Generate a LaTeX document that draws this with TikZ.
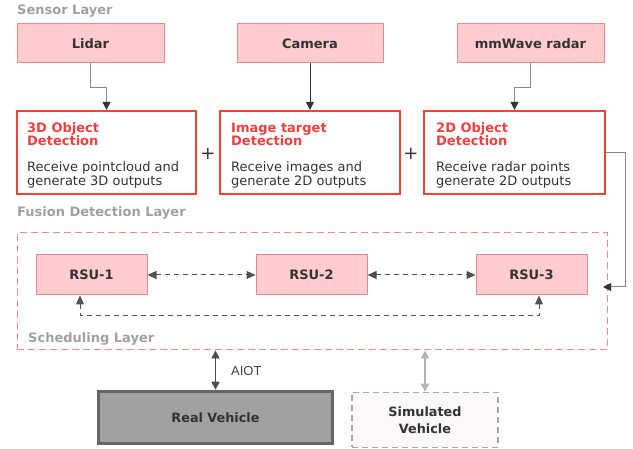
\documentclass[tikz,border=0pt]{standalone}
\usepackage{fontspec}
\setmainfont{DejaVu Sans}
\newfontfamily\arialfont{Liberation Sans}
\usetikzlibrary{arrows.meta}
\definecolor{pinkfill}{HTML}{FFCCD0}
\definecolor{pinkline}{HTML}{F08A88}
\definecolor{redline}{HTML}{EE4433}
\definecolor{redtext}{HTML}{F04040}
\definecolor{labgray}{HTML}{A0A0A0}
\definecolor{darkline}{HTML}{333333}
\definecolor{midline}{HTML}{888888}
\begin{document}
\begin{tikzpicture}[x=1pt,y=-1pt,
  sensor/.style={draw=pinkline, fill=pinkfill, line width=1pt, minimum height=39pt,
    font=\fontsize{13}{15}\selectfont\bfseries, text=darkline, inner sep=0pt},
  rsu/.style={draw=pinkline, fill=pinkfill, line width=1pt, minimum width=111pt, minimum height=40pt,
    font=\fontsize{13}{15}\selectfont\bfseries, text=darkline, inner sep=0pt},
  layerlab/.style={font=\fontsize{13}{15}\selectfont\bfseries, text=labgray, anchor=base west, inner sep=0pt},
  tip/.style={-{Triangle[length=8pt,width=8pt,color=darkline]}},
  feed/.style={midline, line width=1pt, tip},
  peer/.style={darkline!85, line width=1pt, dashed, dash pattern=on 5pt off 4pt,
    {Triangle[length=9pt,width=8pt]}-{Triangle[length=9pt,width=8pt]}},
  detframe/.style={draw=redline, line width=2.2pt, minimum height=83pt, inner sep=0pt},
  dettitle/.style={anchor=north west, align=left, inner sep=0pt, font=\fontsize{13}{13.3}\selectfont\bfseries, text=redtext},
  detbody/.style={anchor=base west, align=left, inner sep=0pt, font=\fontsize{13}{14}\selectfont, text=darkline},
  plussign/.style={font=\fontsize{18}{18}\selectfont, text=darkline, inner sep=0pt},
]
\useasboundingbox (0,0) rectangle (633,449);

% layer labels
\node[layerlab] (lsensor) at (17,15) {Sensor Layer};
\node[layerlab] (lfusion) at (17,217) {Fusion Detection Layer};

% sensors
\node[sensor, minimum width=147pt] (lidar) at (90.5,43.5) {Lidar};
\node[sensor, minimum width=146pt] (camera) at (310,43.5) {Camera};
\node[sensor, minimum width=147pt] (radar) at (530.5,43.5) {mmWave radar};

% detection boxes
\node[detframe, minimum width=179pt] (det3d) at (106.5,152.5) {};
\node[detframe, minimum width=180pt] (detimg) at (310,152.5) {};
\node[detframe, minimum width=181pt] (det2d) at (514.5,152.5) {};

\node[dettitle] (t3d) at (27,122.5) {3D Object\\Detection};
\node[dettitle] (timg) at (231,122.5) {Image target\\Detection};
\node[dettitle] (t2d) at (436,122.5) {2D Object\\Detection};

\node[detbody] (b3d) at (27,185.5) {Receive pointcloud and\\generate 3D outputs};
\node[detbody] (bimg) at (231,185.5) {Receive images and\\generate 2D outputs};
\node[detbody] (b2d) at (436,185.5) {Receive radar points\\generate 2D outputs};

\node[plussign] (plus1) at (208,154) {+};
\node[plussign] (plus2) at (411,154) {+};

% sensor -> detection
\draw[feed] (lidar.south) -- ++(0,24) -| (det3d.north);
\draw[darkline, line width=1pt, tip] (camera.south) -- (detimg.north);
\draw[feed] (radar.south) -- ++(0,24) -| (det2d.north);

% fusion container
\node[draw=pinkline, line width=1pt, dashed, dash pattern=on 7pt off 4pt, minimum width=590pt, minimum height=117pt, inner sep=0pt] (fusion) at (312,291.5) {};
\node[layerlab] (lsched) at (28,343) {Scheduling Layer};

\coordinate (fin) at (603,287);
\draw[feed] (det2d.east) -- ++(19.5,0) |- (fin);

% RSUs
\node[rsu] (rsu1) at (91.5,275) {RSU-1};
\node[rsu] (rsu2) at (311.5,275) {RSU-2};
\node[rsu] (rsu3) at (531.5,275) {RSU-3};

\draw[peer] (rsu1.east) -- (rsu2.west);
\draw[peer] (rsu2.east) -- (rsu3.west);
\draw[peer] ([xshift=-11.5pt]rsu1.south) -- ++(0,20) -| ([xshift=7.5pt]rsu3.south);

% vehicles
\node[draw=black!60, fill=black!37, line width=3.5pt, minimum width=234pt, minimum height=52pt, inner sep=0pt,
  font=\fontsize{12.8}{15}\selectfont\bfseries, text=darkline] (real) at (215.5,417.5) {Real Vehicle};
\node[draw=black!35, fill=white!97!violet, line width=1.5pt, dashed, dash pattern=on 6pt off 4pt,
  minimum width=146pt, minimum height=55pt, inner sep=0pt, align=center,
  font=\fontsize{12.8}{17}\selectfont\bfseries, text=darkline] (sim) at (425,420) {Simulated\\Vehicle};

\draw[black!70, line width=1.5pt, {Triangle[length=8pt,width=8pt]}-{Triangle[length=8pt,width=8pt]}] (fusion.south -| real.north) -- (real.north);
\node[anchor=base west, inner sep=0pt, font=\arialfont\fontsize{13}{15}\selectfont, text=black!75] (aiot) at (231,376) {AIOT};
\draw[black!30, line width=1.5pt, {Triangle[length=8pt,width=8pt]}-{Triangle[length=8pt,width=8pt]}] (fusion.south -| sim.north) -- (sim.north);
\end{tikzpicture}
\end{document}
